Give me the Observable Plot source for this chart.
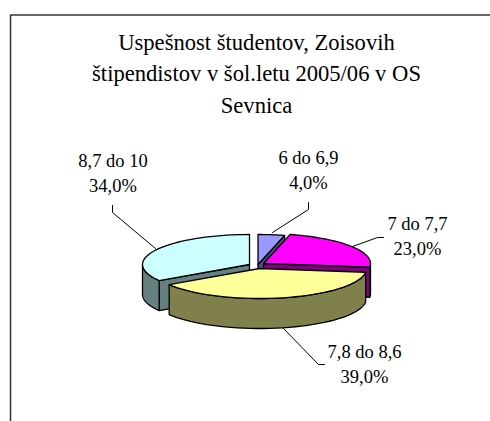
<!DOCTYPE html>
<html><head><meta charset="utf-8">
<script src="https://cdn.jsdelivr.net/npm/d3@7"></script>
<script src="https://cdn.jsdelivr.net/npm/@observablehq/plot@0.6"></script>
<style>html,body{margin:0;padding:0;background:#fff}svg{display:block}</style>
</head><body><div id="chart"></div>
<script>
const titleLines = ["Uspešnost študentov, Zoisovih", "štipendistov v šol.letu 2005/06 v OS", "Sevnica"];
const categories = ["6 do 6,9", "7 do 7,7", "7,8 do 8,6", "8,7 do 10"];
const shares = [4, 23, 39, 34];
const topColors = ["#9999ff", "#ff00ff", "#ffff99", "#ccffff"];
const sideColors = ["#4d4d80", "#800080", "#80804d", "#668080"];
const apexX = [257.5, 263, 259, 249];
const apexY = [264, 263, 268, 264];
const paintOrder = [0, 3, 1, 2];
const labelX = [308, 417, 364, 112.5];
const labelY = [163, 229, 357, 166];
const leaders = [
  [[308, 202], [308, 209], [272, 232]],
  [[383, 237], [377, 237], [352, 246]],
  [[324, 364], [318, 364], [283, 328]],
  [[112, 205], [112, 212], [155, 248]]
];
const rx = 107, ry = 30, depth = 30, lineGap = 25.5;

const rad = (a) => a * Math.PI / 180;
let acc = 0;
const slices = shares.map((s, i) => {
  const a0 = acc * 3.6; acc += s; const a1 = acc * 3.6;
  return {i, a0, a1, ax: apexX[i], ay: apexY[i]};
});
const edge = (s, a) => [s.ax + rx * Math.sin(rad(a)), s.ay - ry * Math.cos(rad(a))];
const arc = (s, from, to) => d3.range(0, 41).map(k => edge(s, from + (to - from) * k / 40));
const polys = [];
let pid = 0;
const pushPoly = (pts, fill) => {
  const id = pid++;
  [...pts, pts[0]].forEach(p => polys.push({x: p[0], y: p[1], id, fill}));
};
const drop = (pts) => pts.map(p => [p[0], p[1] + depth]);
for (const j of paintOrder) {
  const s = slices[j], side = sideColors[j];
  const apex = [s.ax, s.ay];
  if (Math.sin(rad(s.a0)) < -1e-6) {
    const e = edge(s, s.a0);
    pushPoly([apex, e, ...drop([e, apex])], side);
  }
  if (Math.sin(rad(s.a1)) > 1e-6) {
    const e = edge(s, s.a1);
    pushPoly([apex, e, ...drop([e, apex])], side);
  }
  const f0 = Math.max(s.a0, 90), f1 = Math.min(s.a1, 270);
  if (f1 > f0) {
    const o = arc(s, f0, f1);
    pushPoly([...o, ...drop(o).reverse()], side);
  }
  pushPoly([apex, ...arc(s, s.a0, s.a1)], topColors[j]);
}
const leaderPts = leaders.flatMap((l, id) => l.map(p => ({x: p[0], y: p[1], id})));
const frame = [{x: 10, y: 421}, {x: 10, y: 14.5}, {x: 490, y: 14.5}];
const titleData = titleLines.map((t, i) => ({t, x: 256, y: 49 + i * 31.5}));
const labelData = categories.flatMap((c, i) => [
  {t: c, x: labelX[i], y: labelY[i]},
  {t: shares[i].toFixed(1).replace(".", ",") + "%", x: labelX[i], y: labelY[i] + lineGap}
]);

const serif = "'Liberation Serif','Times New Roman',serif";
const chart = Plot.plot({
  width: 490, height: 421, margin: 0,
  style: {background: "#fff"},
  x: {type: "linear", domain: [0, 490], range: [0, 490], axis: null},
  y: {type: "linear", domain: [0, 421], range: [0, 421], axis: null},
  marks: [
    Plot.line(frame, {x: "x", y: "y", stroke: "#333", strokeWidth: 1.5}),
    Plot.line(polys, {x: "x", y: "y", z: "id", fill: "fill", stroke: "#000", strokeWidth: 1.3, strokeLinejoin: "round", curve: "linear"}),
    Plot.line(leaderPts, {x: "x", y: "y", z: "id", stroke: "#000", strokeWidth: 1}),
    Plot.text(titleData, {x: "x", y: "y", text: "t", fontFamily: serif, fontSize: 22.6, fill: "#000", textAnchor: "middle", lineAnchor: "bottom"}),
    Plot.text(labelData, {x: "x", y: "y", text: "t", fontFamily: serif, fontSize: 18.5, fill: "#000", textAnchor: "middle", lineAnchor: "bottom"})
  ]
});
document.getElementById("chart").appendChild(chart);
</script></body></html>
